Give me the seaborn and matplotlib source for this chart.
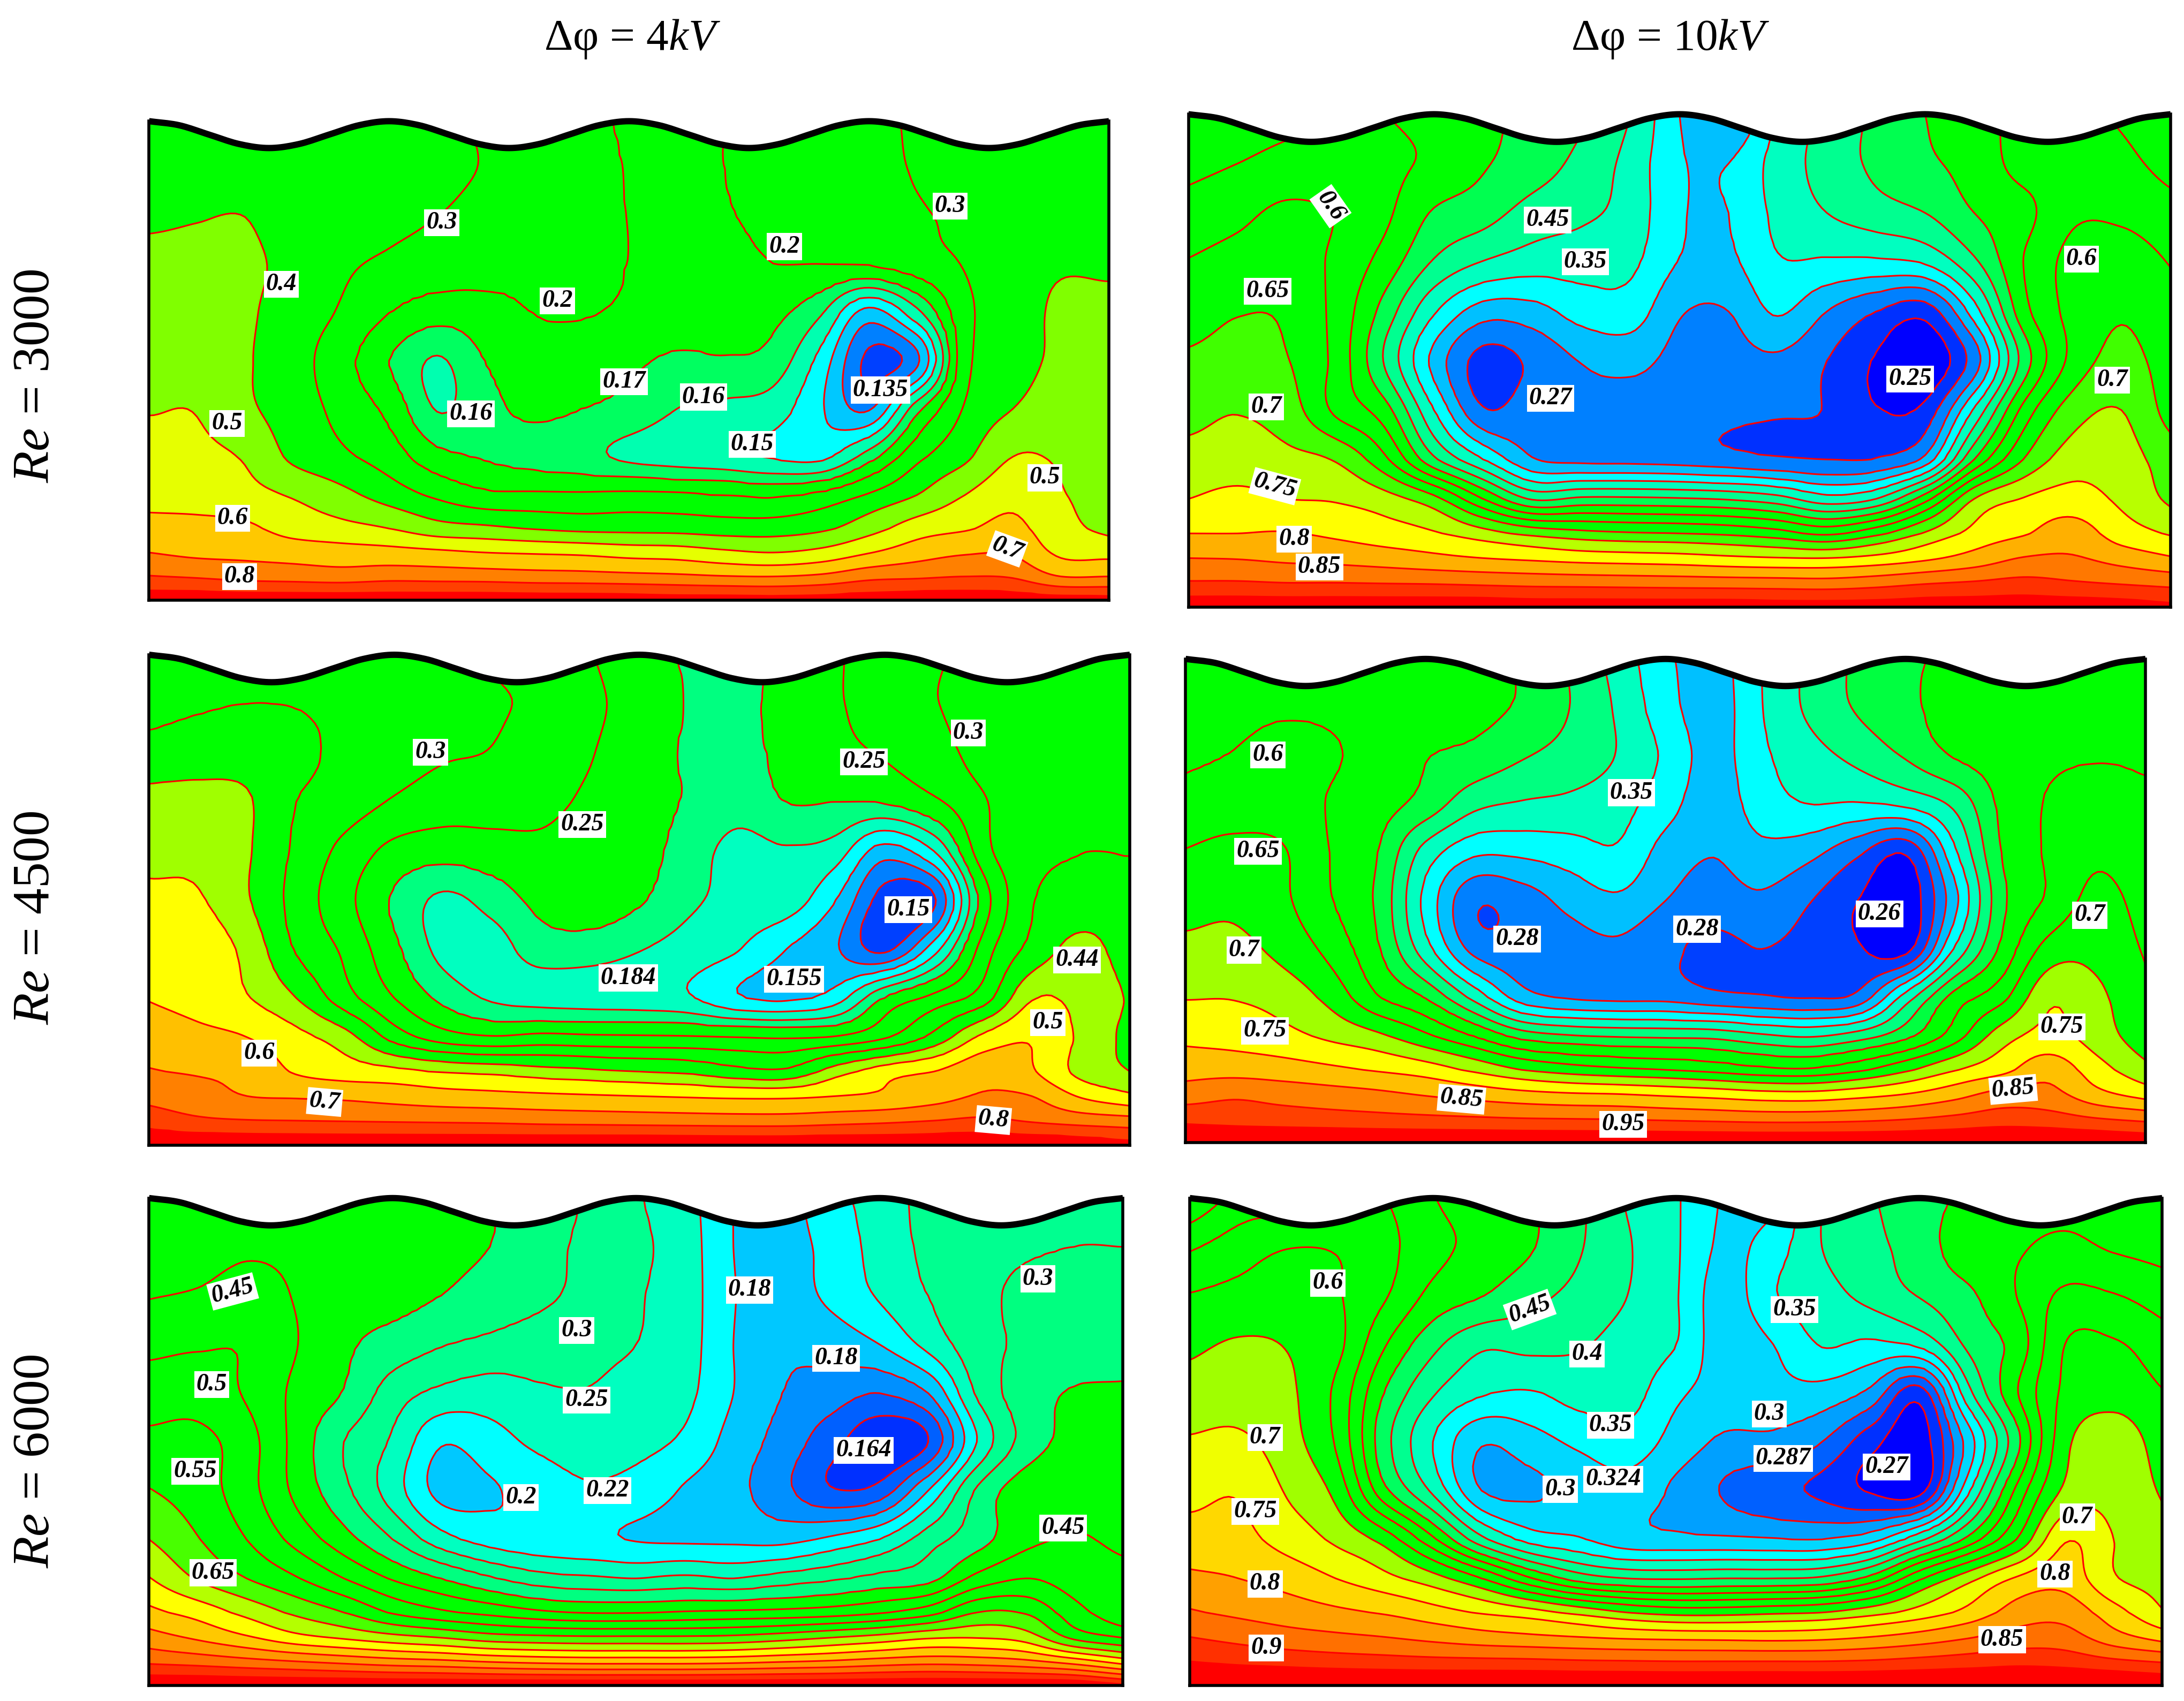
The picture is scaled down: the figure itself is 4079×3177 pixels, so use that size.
import numpy as np
import matplotlib
matplotlib.use("Agg")
import matplotlib.pyplot as plt
import seaborn as sns

# ---- data: contour levels, band colours and sampled field (in "level position" units) ----
ROW_F = [0, .1, .2, .3, .4, .5, .6, .7, .78, .85, .9, .95, 1]
WAVE = [0, .15, .5, .85, 1, .85, .5, .15, 0, .15, .5, .85, 1, .85, .5, .15, 0,
        .15, .5, .85, 1, .85, .5, .15, 0, .15, .5, .85, 1, .85, .5, .15, 0]

L1 = [.135, .14, .145, .15, .16, .17, .2, .3, .4, .5, .6, .7, .8, .9]
C1 = ["#0040ff", "#0080ff", "#00c8ff", "#00ffff", "#00ffb0", "#00ff60", "#00ff00", "#00ff00", "#00ff00",
      "#80ff00", "#e6ff00", "#ffc800", "#ff8000", "#ff4000", "#ff0000"]
G1 = [
 [7.5,7.5,7.5,7.5,7.4,7.3,7.2,6.9,6.6,6.2,5.9,5.7,6.0,6.4,6.6,6.8,7.1,7.3,7.5,7.6,7.7],
 [7.6,7.5,7.6,7.5,7.4,7.3,7.2,6.95,6.6,6.3,5.95,5.7,6.0,6.4,6.6,6.8,7.05,7.3,7.5,7.6,7.7],
 [7.8,7.95,8.0,7.5,7.3,7.15,7.0,6.7,6.35,6.2,5.98,5.7,5.9,6.3,6.5,6.75,6.9,7.2,7.4,7.6,7.7],
 [8.4,8.3,8.2,7.7,7.15,6.85,6.6,6.4,6.25,6.2,5.98,5.7,5.6,5.97,5.95,6.0,6.5,7.05,7.6,7.9,7.85],
 [8.5,8.4,8.15,7.5,6.9,6.0,5.4,5.6,6.0,6.05,5.85,5.6,5.4,5.25,4.1,1.6,3.7,6.7,7.45,8.2,8.3],
 [8.6,8.55,8.1,7.4,6.4,5.0,3.9,5.0,5.6,5.5,5.2,4.8,4.9,4.6,2.6,-0.2,0.8,6.6,7.55,8.2,8.3],
 [8.95,8.95,8.2,7.5,6.7,5.7,3.95,4.7,5.2,5.0,4.7,4.0,3.8,3.5,2.1,0.9,4.6,7.1,8.0,8.5,8.6],
 [9.3,9.2,8.9,7.8,7.2,6.5,5.3,4.9,4.6,4.3,3.8,3.5,3.3,2.9,2.7,4.5,6.7,7.8,9.0,8.9,8.7],
 [9.6,9.5,9.3,8.9,8.3,7.55,6.8,6.2,6.15,6.1,6.2,6.1,5.95,5.8,6.2,7.1,8.0,9.0,9.7,9.05,8.8],
 [10.4,10.35,10.2,9.6,9.3,9.0,8.4,8.2,7.95,7.75,7.7,7.65,7.5,7.5,7.8,8.6,9.5,9.9,10.25,9.3,8.8],
 [11.0,10.8,10.75,10.6,10.45,10.35,10.2,10.0,9.9,9.8,9.6,9.5,9.2,9.0,9.3,9.95,10.55,10.9,10.9,9.8,9.7],
 [12.05,11.9,11.7,11.6,11.5,11.65,11.6,11.55,11.45,11.4,11.3,11.2,11.05,11.0,11.2,11.7,11.85,12.0,11.9,11.0,11.0],
 [13.8,13.8,13.8,13.8,13.8,13.8,13.8,13.8,13.7,13.7,13.7,13.6,13.6,13.5,13.6,13.7,13.8,13.8,13.7,13.6,13.5],
]

L2 = [.25, .27, .3, .32, .35, .4, .45, .5, .55, .6, .65, .7, .75, .8, .85, .9, .95]
C2 = ["#0000ff", "#0030ff", "#0080ff", "#00c0ff", "#00ffff", "#00ffc0", "#00ff90", "#00ff50", "#00ff00", "#00ff00",
      "#00ff00", "#40ff00", "#b8ff00", "#ffff00", "#ffb000", "#ff7800", "#ff3000", "#ff0000"]
G2 = [
 [7.2,7.4,7.7,8.0,8.0,7.7,7.2,6.8,6.2,5.0,3.0,1.8,4.0,5.3,6.2,7.0,7.7,8.2,8.2,7.9,7.5],
 [7.7,8.0,8.3,8.3,8.2,7.8,7.1,6.5,5.7,4.65,3.1,3.0,4.4,5.4,6.2,6.8,7.4,8.3,8.2,8.2,7.7],
 [8.4,8.75,9.2,8.95,8.2,6.9,6.4,5.6,5.2,4.6,3.1,3.0,4.25,5.0,5.55,6.0,7.0,7.7,8.8,8.8,8.35],
 [9.05,9.35,9.5,8.8,7.6,5.9,4.95,4.5,4.4,4.2,2.95,2.8,3.9,3.85,3.8,4.1,5.8,8.0,9.3,9.5,8.95],
 [9.6,9.95,9.85,8.7,6.6,4.1,2.5,2.6,3.4,3.5,2.1,2.0,3.1,2.0,1.0,0.4,3.5,7.6,9.3,9.9,9.3],
 [10.15,10.3,10.05,8.7,5.9,2.7,0.6,1.2,2.05,2.3,1.7,1.6,1.8,1.0,-0.1,-0.9,1.5,6.4,9.3,10.3,9.5],
 [10.7,10.95,10.5,8.8,7.4,4.0,1.1,1.6,1.75,1.6,1.5,1.2,1.1,0.95,0.05,0.3,4.1,8.3,10.5,11.0,9.6],
 [11.3,11.4,11.25,10.9,9.2,6.2,4.0,2.1,1.75,1.7,1.6,1.35,1.1,1.0,1.05,2.3,7.0,10.0,11.5,11.4,10.5],
 [12.0,12.3,12.0,11.9,11.4,10.3,8.0,5.9,6.2,6.2,6.1,5.9,5.4,4.4,5.0,7.6,11.0,12.05,12.4,11.8,10.8],
 [13.0,13.0,13.05,12.8,12.45,12.1,11.4,10.7,10.3,10.1,10.0,9.8,9.4,8.8,9.7,11.1,12.3,12.9,13.5,12.5,11.9],
 [14.0,13.95,13.8,13.7,13.5,13.25,13.0,12.8,12.6,12.5,12.4,12.2,12.05,12.0,12.3,12.8,13.4,14.05,14.1,13.6,13.1],
 [15.1,15.1,15.0,15.0,14.95,14.9,14.8,14.7,14.65,14.6,14.55,14.5,14.45,14.4,14.6,14.9,15.1,15.3,15.1,14.9,14.7],
 [16.8,16.8,16.8,16.8,16.8,16.8,16.8,16.7,16.7,16.7,16.7,16.7,16.6,16.6,16.6,16.7,16.7,16.7,16.7,16.6,16.3],
]

L3 = [.15, .155, .16, .17, .184, .2, .25, .3, .35, .44, .5, .6, .7, .8, .9]
C3 = ["#0040ff", "#0080ff", "#00c0ff", "#00ffff", "#00ffc0", "#00ff80", "#00ff00", "#00ff00", "#00ff00", "#00ff00",
      "#a0ff00", "#ffff00", "#ffc000", "#ff8000", "#ff4000", "#ff0000"]
G3 = [
 [7.4,7.4,7.4,7.4,7.3,7.2,7.15,6.9,6.6,6.05,5.4,4.9,4.7,5.2,5.9,6.4,6.9,7.2,7.4,7.5,7.6],
 [7.6,7.85,8.0,7.95,7.7,7.5,7.3,7.1,6.8,6.2,5.6,4.95,4.8,5.3,5.9,6.4,6.95,7.3,7.5,7.6,7.7],
 [8.4,8.6,8.6,8.3,7.7,7.4,7.1,6.95,6.4,6.05,5.4,4.9,4.7,5.25,5.7,6.1,6.6,7.35,7.7,7.8,7.9],
 [9.3,9.3,9.1,8.0,7.5,6.9,6.5,6.4,6.2,5.85,5.4,4.9,4.4,5.0,5.0,5.05,5.8,6.9,7.7,7.9,8.0],
 [9.6,9.7,9.1,7.8,6.7,5.7,5.4,5.6,5.8,5.6,5.4,4.5,3.7,3.9,3.5,1.5,3.0,6.6,7.7,7.98,7.97],
 [10.3,10.1,9.1,7.6,6.3,4.85,3.8,4.4,5.3,5.6,5.1,4.2,3.7,3.55,2.0,-0.4,-0.1,5.4,7.9,8.4,8.4],
 [10.7,10.6,9.7,7.9,6.8,5.2,3.7,3.6,4.5,4.5,4.05,3.6,3.05,2.0,1.1,-0.2,2.5,6.4,8.3,9.3,8.5],
 [10.95,10.6,10.05,9.0,7.4,6.0,4.7,3.85,3.6,3.5,3.4,3.1,2.1,1.8,2.5,5.0,6.3,7.5,9.9,9.7,8.9],
 [11.7,11.3,11.0,10.3,9.4,7.6,6.5,6.1,6.3,6.2,6.15,6.1,6.0,5.9,6.1,6.9,8.3,10.2,10.9,9.8,8.7],
 [12.05,11.9,11.7,10.9,10.5,10.25,9.9,9.7,9.4,9.2,9.0,8.8,8.3,8.2,9.5,10.5,11.0,11.7,11.1,9.7,9.0],
 [12.7,12.4,12.0,11.9,11.8,11.6,11.4,11.3,11.2,11.1,11.0,10.9,10.8,10.8,11.0,11.2,11.6,12.1,12.0,10.9,10.2],
 [13.6,13.2,13.05,13.0,12.95,12.9,12.85,12.8,12.7,12.65,12.6,12.55,12.5,12.5,12.65,12.8,13.0,13.2,12.9,12.6,12.4],
 [15,15,15,15,15,15,15,15,15,15,15,15,15,15,15,15,15,15,15,14.8,14.4],
]

L4 = [.26, .28, .3, .32, .35, .4, .45, .5, .6, .65, .7, .75, .8, .85, .9, .95]
C4 = ["#0000ff", "#0040ff", "#0080ff", "#00c0ff", "#00ffff", "#00ffc0", "#00ff80", "#00ff40", "#00ff00", "#00ff00",
      "#00ff00", "#a0ff00", "#ffff00", "#ffc000", "#ff8000", "#ff4000", "#ff0000"]
G4 = [
 [7.4,7.5,7.5,7.5,7.4,7.3,7.2,6.9,5.9,4.6,3.2,2.6,4.0,5.2,6.2,6.8,7.2,7.3,7.5,7.6,7.6],
 [7.6,7.7,7.85,7.85,7.7,7.5,7.3,6.85,6.0,4.85,3.4,2.5,3.95,5.2,6.1,6.7,7.5,7.7,7.8,7.8,7.75],
 [7.85,8.05,8.4,8.1,7.7,7.05,6.7,6.1,5.6,4.95,3.8,2.6,3.8,4.6,5.3,6.1,7.05,7.5,7.85,7.95,7.9],
 [8.35,8.5,8.5,7.95,7.4,6.6,5.3,4.9,4.75,4.4,3.4,2.4,3.5,4.0,3.9,4.2,5.2,7.2,8.1,8.4,8.15],
 [9.05,9.3,9.1,8.0,7.0,4.6,3.2,3.2,3.5,3.85,2.6,2.05,2.7,2.3,1.2,0.1,3.7,7.0,8.15,8.8,8.3],
 [9.6,9.75,9.2,8.1,6.8,3.7,1.2,1.5,2.3,2.8,2.0,1.5,1.8,1.05,0.0,-0.8,2.6,6.7,8.2,9.3,8.6],
 [10.25,10.3,9.7,8.7,7.1,4.4,1.7,1.4,1.6,1.8,1.2,0.8,1.0,0.7,0.1,-0.4,4.0,7.2,9.4,9.7,8.9],
 [10.95,10.95,10.6,9.7,8.1,6.9,4.7,2.5,1.9,1.75,1.7,1.3,1.1,0.95,1.3,4.4,7.3,8.7,10.8,10.2,9.2],
 [11.75,11.6,11.3,10.8,10.2,9.2,8.0,6.6,6.1,5.9,5.8,5.7,5.2,4.9,5.5,6.7,8.5,10.5,11.3,10.5,9.4],
 [12.6,12.6,12.45,12.2,11.9,11.5,10.8,10.0,9.5,9.2,9.0,8.7,8.3,8.2,8.8,9.8,10.9,11.7,12.6,11.4,10.3],
 [13.5,13.8,13.6,13.4,13.2,12.9,12.6,12.3,12.1,12.0,11.8,11.6,11.35,11.3,11.6,12.0,12.6,13.3,13.3,12.3,11.6],
 [14.7,14.6,14.5,14.4,14.3,14.2,14.1,14.0,13.95,13.9,13.8,13.7,13.6,13.6,13.7,13.9,14.2,14.5,14.4,14.0,13.7],
 [16,16,16,16,16,16,16,16,16,16,16,16,16,16,16,16,16,16,16,16,15.8],
]

L5 = [.164, .17, .18, .2, .22, .25, .3, .4, .45, .5, .55, .6, .65, .7, .75, .8, .85, .9, .95]
C5 = ["#0030ff", "#0060ff", "#0090ff", "#00c8ff", "#00ffff", "#00ffc0", "#00ff90", "#00ff80", "#00ff00", "#00ff00",
      "#00ff00", "#00ff00", "#48ff00", "#b4ff00", "#ffff00", "#ffc800", "#ff9800", "#ff7000", "#ff3000", "#ff0000"]
G5 = [
 [7.5,7.5,7.5,7.5,7.4,7.3,7.2,7.05,6.6,5.9,5.1,4.4,3.0,2.7,3.6,4.5,5.3,5.8,5.8,5.8,5.8],
 [7.55,7.6,7.85,7.8,7.6,7.4,7.2,7.0,6.4,5.75,5.2,4.5,3.0,2.7,3.3,4.4,5.2,5.7,5.9,6.0,6.0],
 [7.95,8.1,8.4,7.95,7.4,7.35,7.0,6.6,6.2,5.7,5.1,4.5,3.05,2.6,3.2,4.1,5.0,5.7,6.2,6.3,6.3],
 [8.75,8.9,8.9,8.05,7.2,6.6,6.05,5.75,5.5,5.3,5.0,4.45,3.0,2.2,2.4,3.0,4.3,5.6,6.15,6.3,6.35],
 [9.5,9.5,8.9,7.8,6.95,5.5,4.75,4.5,4.85,4.95,4.6,4.25,3.0,2.0,1.5,1.0,2.0,5.1,6.5,7.1,7.2],
 [10.25,10.3,9.4,7.7,6.0,4.85,3.1,3.6,4.2,4.5,4.3,3.8,2.6,1.6,0.4,-0.7,0.0,4.0,6.4,7.3,7.4],
 [11.05,10.5,9.4,7.8,6.25,4.5,2.7,2.9,3.4,3.85,3.6,2.9,2.3,1.3,0.1,0.4,3.0,6.1,7.6,7.7,7.7],
 [12.0,11.05,10.0,8.7,7.4,6.0,4.4,3.6,3.3,3.2,2.95,2.85,2.8,2.7,3.2,4.0,5.5,6.6,7.75,8.05,7.85],
 [13.05,11.9,11.0,10.1,9.0,7.9,7.0,6.1,5.4,5.15,5.0,5.2,5.0,5.4,5.8,6.3,6.7,8.3,9.0,8.5,8.2],
 [14.25,13.6,12.7,11.8,11.0,9.9,9.2,8.7,8.2,7.95,7.95,8.1,8.2,8.3,8.5,8.9,9.6,11.0,10.9,9.4,8.3],
 [15.4,14.8,14.1,13.3,12.8,12.3,11.9,11.4,11.2,11.1,11.1,11.1,11.2,11.5,11.9,12.3,12.8,12.9,12.5,10.7,9.9],
 [16.8,16.6,16.3,16.0,15.7,15.4,15.2,14.9,14.7,14.6,14.6,14.6,14.7,14.9,15.1,15.4,15.6,15.5,15.2,14.5,13.5],
 [19,19,19,19,19,19,19,19,19,19,19,19,19,19,19,19,19,19,19,19,18.3],
]

L6 = [.27, .28, .287, .3, .324, .35, .4, .45, .5, .53, .56, .6, .65, .7, .75, .8, .85, .9, .95]
C6 = ["#0000ff", "#0030ff", "#0060ff", "#00a0ff", "#00d8ff", "#00ffff", "#00ffc0", "#00ff90", "#00ff60", "#00ff00",
      "#00ff00", "#00ff00", "#00ff00", "#a0ff00", "#f0ff00", "#ffd800", "#ffa000", "#ff7000", "#ff3000", "#ff0000"]
G6 = [
 [8.0,9.3,9.4,9.5,10.0,9.05,8.5,8.1,7.2,5.9,5.1,3.9,3.7,6.0,6.9,7.6,8.2,8.6,8.7,8.7,8.7],
 [9.85,10.5,10.95,10.9,10.3,9.3,8.7,8.1,7.1,6.1,5.1,3.8,4.5,6.0,6.7,7.5,8.6,8.9,9.2,8.9,8.7],
 [11.05,11.3,11.5,11.1,10.1,8.7,8.05,7.3,6.7,6.0,5.05,3.5,4.9,5.6,6.3,7.05,7.8,9.0,10.2,10.05,9.55],
 [11.8,12.1,11.95,11.3,9.1,7.3,6.2,6.3,6.1,5.6,5.0,3.4,4.0,5.05,4.8,5.2,7.2,8.4,11.0,11.1,10.45],
 [12.4,12.5,12.2,10.8,8.0,6.1,5.1,4.9,5.4,5.4,4.2,3.6,3.7,3.6,2.7,0.5,5.6,8.9,11.2,11.6,11.05],
 [13.1,13.2,12.4,10.9,7.4,5.0,3.1,3.6,4.2,4.6,3.6,2.8,2.7,2.0,0.4,-0.6,3.4,7.7,11.7,12.6,11.5],
 [13.7,13.9,12.9,11.7,8.3,5.8,3.0,2.8,3.4,3.6,2.8,1.9,1.3,0.8,-0.1,-0.4,4.7,9.2,12.2,12.7,11.9],
 [14.4,14.3,13.6,12.8,11.6,9.2,6.3,4.6,4.1,3.4,3.25,3.15,3.05,3.0,3.6,5.7,8.3,11.0,13.9,13.0,12.3],
 [15.2,15.0,14.6,14.0,13.3,12.4,11.0,9.1,7.6,7.0,6.9,7.0,7.0,7.2,8.4,10.8,12.6,14.1,14.6,13.1,12.6],
 [16.1,15.8,15.5,15.2,14.9,14.4,13.9,13.4,12.7,12.0,11.6,11.6,11.8,12.0,12.6,13.4,14.3,15.4,15.6,14.4,13.1],
 [17.0,16.7,16.4,16.2,16.0,15.7,15.4,15.2,15.0,14.8,14.7,14.65,14.6,14.7,15.0,15.4,15.9,16.4,16.4,15.4,14.6],
 [18.0,17.8,17.65,17.5,17.4,17.3,17.25,17.2,17.1,17.05,17.0,17.0,17.0,17.0,17.1,17.3,17.5,17.7,17.6,17.2,16.9],
 [19.3,19.3,19.3,19.3,19.3,19.3,19.3,19.3,19.3,19.3,19.3,19.3,19.3,19.3,19.3,19.3,19.3,19.3,19.3,19.3,19.0],
]

LB1 = [("0.3",317,160,0),("0.3",682,148,0),("0.2",563,177,0),("0.2",400,216,0),("0.4",202,204,0),("0.5",163,304,0),
       ("0.17",448,274,0),("0.16",505,285,0),("0.16",338,297,0),("0.135",632,280,0),("0.15",540,319,0),("0.6",167,372,0),
       ("0.5",750,343,0),("0.7",723,394,-20),("0.8",172,414,0)]
LB2 = [("0.6",955,148,-55),("0.45",1111,158,0),("0.35",1138,188,0),("0.65",910,209,0),("0.6",1494,186,0),("0.7",1516,273,0),
       ("0.25",1371,272,0),("0.27",1113,286,0),("0.7",909,292,0),("0.75",915,349,-15),("0.8",929,387,0),("0.85",947,407,0)]
LB3 = [("0.3",309,540,0),("0.3",695,526,0),("0.25",620,547,0),("0.25",418,592,0),("0.184",451,702,0),("0.155",570,703,0),
       ("0.15",652,653,0),("0.44",773,689,0),("0.5",752,734,0),("0.6",186,756,0),("0.7",233,791,-5),("0.8",713,804,-5)]
LB4 = [("0.6",910,542,0),("0.65",903,611,0),("0.7",893,682,0),("0.75",908,740,0),("0.35",1171,569,0),("0.28",1089,674,0),
       ("0.28",1218,667,0),("0.26",1349,656,0),("0.7",1500,657,0),("0.75",1480,737,0),("0.85",1049,789,-5),("0.85",1445,782,5),
       ("0.95",1165,807,0)]
LB5 = [("0.45",167,927,15),("0.5",152,994,0),("0.55",140,1056,0),("0.65",153,1129,0),("0.3",414,955,0),("0.18",538,926,0),
       ("0.18",600,975,0),("0.3",745,918,0),("0.25",421,1005,0),("0.22",436,1070,0),("0.2",374,1075,0),("0.164",620,1041,0),
       ("0.45",763,1097,0)]
LB6 = [("0.6",953,921,0),("0.45",1098,940,20),("0.35",1288,940,0),("0.4",1139,972,0),("0.35",1156,1023,0),("0.3",1270,1015,0),
       ("0.287",1280,1047,0),("0.27",1354,1053,0),("0.3",1120,1069,0),("0.324",1158,1062,0),("0.7",908,1032,0),("0.75",901,1085,0),
       ("0.8",908,1137,0),("0.9",909,1183,0),("0.85",1437,1177,0),("0.7",1491,1089,0),("0.8",1475,1130,0)]

COLUMN_TITLES = ["Δφ = 4$\\mathit{kV}$", "Δφ = 10$\\mathit{kV}$"]
ROW_TITLES = ["$\\mathit{Re}$ = 3000", "$\\mathit{Re}$ = 4500", "$\\mathit{Re}$ = 6000"]

# ---- layout, in pixels of the 1568x1221 view ----
PW, PH = 1568.0, 1221.0
RECTS = [(107, 87, 796, 431), (853, 82, 1558, 436), (107, 470, 811, 822),
         (851, 473, 1540, 820), (107, 860, 806, 1210), (854, 860, 1552, 1210)]
WAVE_AMP = 0.056

sns.set_theme(style="white")
plt.rcParams["font.family"] = ["Liberation Serif", "DejaVu Serif"]
plt.rcParams["mathtext.fontset"] = "custom"
plt.rcParams["mathtext.rm"] = "Liberation Serif"
plt.rcParams["mathtext.it"] = "Liberation Serif:italic"


def smooth_axis(a, n, axis):
    """Catmull-Rom resampling along one axis; the sampled values are kept at the nodes."""
    a = np.moveaxis(np.asarray(a, float), axis, 0)
    p = np.concatenate([2 * a[:1] - a[1:2], a, 2 * a[-1:] - a[-2:-1]], axis=0)
    m = a.shape[0]
    u = np.linspace(0, m - 1, (m - 1) * n + 1)
    i = np.minimum(u.astype(int), m - 2)
    t = (u - i).reshape((-1,) + (1,) * (a.ndim - 1))
    p0, p1, p2, p3 = p[i], p[i + 1], p[i + 2], p[i + 3]
    out = 0.5 * (2 * p1 + (p2 - p0) * t + (2 * p0 - 5 * p1 + 4 * p2 - p3) * t ** 2 + (3 * p1 - p0 - 3 * p2 + p3) * t ** 3)
    return np.moveaxis(out, 0, axis)


fig = plt.figure(figsize=(40.8, 31.77), dpi=100)
panels = [(G1, L1, C1, LB1), (G2, L2, C2, LB2), (G3, L3, C3, LB3), (G4, L4, C4, LB4), (G5, L5, C5, LB5), (G6, L6, C6, LB6)]

for (grid, levels, colors, labels), (x0, y0, x1, y1) in zip(panels, RECTS):
    ax = fig.add_axes([x0 / PW, 1 - y1 / PH, (x1 - x0) / PW, (y1 - y0) / PH])
    f = np.asarray(grid, float)
    n = 10
    fine = smooth_axis(smooth_axis(f, n, 0), n, 1)
    rows = 1 - np.interp(np.linspace(0, len(ROW_F) - 1, fine.shape[0]), np.arange(len(ROW_F)), ROW_F)
    cols = np.linspace(0, 1, fine.shape[1])
    K = len(levels)
    knots = [-4] + list(range(K)) + [K + 4]
    vals = [levels[0] - 0.04] + list(levels) + [levels[-1] + 0.2]
    z = np.interp(fine, knots, vals)
    bounds = [vals[0]] + list(levels) + [vals[-1]]
    ax.contourf(cols, rows, z, levels=bounds, colors=sns.color_palette(colors, len(colors)))
    ax.contour(cols, rows, z, levels=levels, colors="#ff0000", linewidths=2.2)
    wd = smooth_axis(np.asarray(WAVE, float), 10, 0)
    wx = np.linspace(0, 1, wd.size)
    wy = 1 - WAVE_AMP * wd
    ax.fill_between(wx, wy, 1.05, color="white", zorder=5, lw=0)
    ax.plot(wx, wy, color="black", lw=8.5, zorder=6, solid_capstyle="butt", clip_on=False)
    ax.set_xlim(0, 1)
    ax.set_ylim(0, 1)
    ax.set_xticks([])
    ax.set_yticks([])
    sns.despine(ax=ax, top=True, right=False, left=False, bottom=False)
    for s in ("left", "right", "bottom"):
        ax.spines[s].set_linewidth(4.0)
        ax.spines[s].set_color("black")
        ax.spines[s].set_zorder(7)
    for txt, px, py, rot in labels:
        fig.text(px / PW, 1 - py / PH, txt, ha="center", va="center", rotation=rot, fontsize=33,
                 fontweight="bold", fontstyle="italic", color="black", zorder=20,
                 bbox=dict(facecolor="white", edgecolor="none", pad=3))

for t, px in zip(COLUMN_TITLES, [454, 1199]):
    fig.text(px / PW, 1 - 28 / PH, t, ha="center", va="center", fontsize=60, color="black")
for t, py in zip(ROW_TITLES, [270, 659, 1049]):
    fig.text(26 / PW, 1 - py / PH, t, ha="center", va="center", rotation=90, fontsize=70, color="black")

fig.savefig("out.png", dpi=100, facecolor="white")
